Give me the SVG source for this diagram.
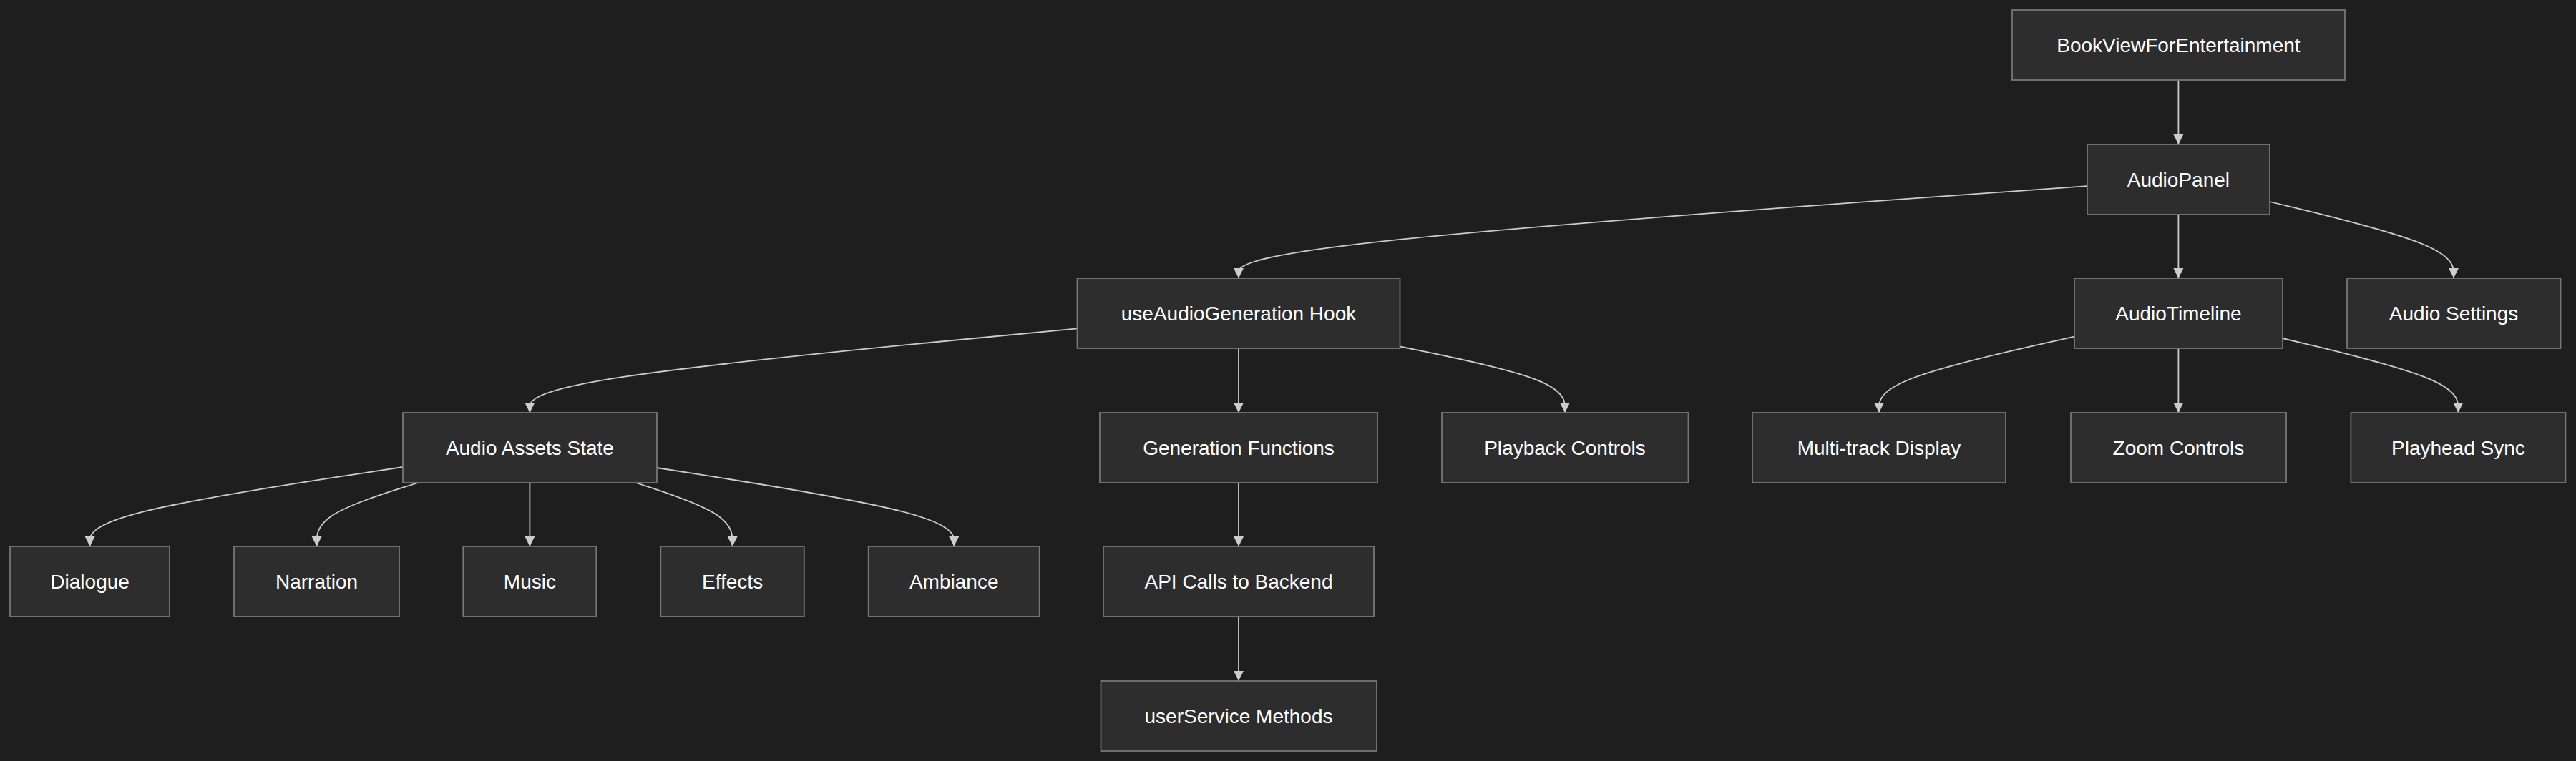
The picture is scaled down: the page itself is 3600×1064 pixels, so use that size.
<svg xmlns="http://www.w3.org/2000/svg" width="3600" height="1064" viewBox="0 0 3600 1064">
<defs>
<style>
.node rect{fill:#2d2d2d;stroke:#777777;stroke-width:1.8}
.node text{font-family:"Liberation Sans",Arial,sans-serif;font-size:28px;fill:#ffffff;text-anchor:middle}
.edge{fill:none;stroke:#cccccc;stroke-width:1.8;marker-end:url(#arr)}
</style>
<marker id="arr" viewBox="0 0 10 10" refX="10" refY="5" markerUnits="userSpaceOnUse" markerWidth="14.4" markerHeight="14.4" orient="auto">
<path d="M0,0 L10,5 L0,10 z" fill="#cccccc"/>
</marker>
</defs>
<rect x="0" y="0" width="3600" height="1064" fill="#1e1e1e"/>
<g id="connectors">
<path class="edge" d="M3044.4,112 L3044.4,202"/>
<path class="edge" d="M2916.9,260.1 L2719.25,274.17 C2521.6,288.23 2126.3,316.37 1928.65,337.85 C1731,359.33 1731,374.17 1731,381.58 L1731,389"/>
<path class="edge" d="M3044.4,300 L3044.4,389"/>
<path class="edge" d="M3171.9,282 L3214.75,292.42 C3257.6,302.83 3343.3,323.67 3386.15,341.5 C3429,359.33 3429,374.17 3429,381.58 L3429,389"/>
<path class="edge" d="M1505.5,459.4 L1377.98,471.5 C1250.47,483.6 995.43,507.8 867.92,527.4 C740.4,547 740.4,562 740.4,569.5 L740.4,577"/>
<path class="edge" d="M1731,487 L1731,577"/>
<path class="edge" d="M1956.5,484.5 L1994.92,492.42 C2033.33,500.33 2110.17,516.17 2148.58,531.58 C2187,547 2187,562 2187,569.5 L2187,577"/>
<path class="edge" d="M2898.9,470.7 L2853.42,480.92 C2807.93,491.13 2716.97,511.57 2671.48,529.28 C2626,547 2626,562 2626,569.5 L2626,577"/>
<path class="edge" d="M3044.4,487 L3044.4,577"/>
<path class="edge" d="M3189.9,473 L3230.82,482.83 C3271.73,492.67 3353.57,512.33 3394.48,529.67 C3435.4,547 3435.4,562 3435.4,569.5 L3435.4,577"/>
<path class="edge" d="M562.9,653 L490.02,664.08 C417.13,675.17 271.37,697.33 198.48,715.83 C125.6,734.33 125.6,749.17 125.6,756.58 L125.6,764"/>
<path class="edge" d="M584.3,675 L560.68,682.42 C537.07,689.83 489.83,704.67 466.22,719.5 C442.6,734.33 442.6,749.17 442.6,756.58 L442.6,764"/>
<path class="edge" d="M740.4,675 L740.4,764"/>
<path class="edge" d="M888.8,675 L911.27,682.42 C933.73,689.83 978.67,704.67 1001.13,719.5 C1023.6,734.33 1023.6,749.17 1023.6,756.58 L1023.6,764"/>
<path class="edge" d="M917.9,654 L987.12,664.92 C1056.33,675.83 1194.77,697.67 1263.98,716 C1333.2,734.33 1333.2,749.17 1333.2,756.58 L1333.2,764"/>
<path class="edge" d="M1731,675 L1731,764"/>
<path class="edge" d="M1731,862 L1731,952"/>
</g>
<g id="n-bookview" class="node"><rect x="2812" y="14" width="465" height="98"/><text x="3044.4" y="73">BookViewForEntertainment</text></g>
<g id="n-audiopanel" class="node"><rect x="2917" y="202" width="255" height="98"/><text x="3044.4" y="261">AudioPanel</text></g>
<g id="n-useaudiogen" class="node"><rect x="1505.5" y="389" width="451" height="98"/><text x="1731" y="448">useAudioGeneration Hook</text></g>
<g id="n-audiotimeline" class="node"><rect x="2899" y="389" width="291" height="98"/><text x="3044.4" y="448">AudioTimeline</text></g>
<g id="n-audiosettings" class="node"><rect x="3280" y="389" width="298.5" height="98"/><text x="3429" y="448">Audio Settings</text></g>
<g id="n-audioassets" class="node"><rect x="563" y="577" width="355" height="98"/><text x="740.4" y="636">Audio Assets State</text></g>
<g id="n-genfunctions" class="node"><rect x="1537" y="577" width="388" height="98"/><text x="1731" y="636">Generation Functions</text></g>
<g id="n-playback" class="node"><rect x="2015" y="577" width="344.5" height="98"/><text x="2187" y="636">Playback Controls</text></g>
<g id="n-multitrack" class="node"><rect x="2449" y="577" width="354" height="98"/><text x="2626" y="636">Multi-track Display</text></g>
<g id="n-zoom" class="node"><rect x="2894" y="577" width="301" height="98"/><text x="3044.4" y="636">Zoom Controls</text></g>
<g id="n-playhead" class="node"><rect x="3285.4" y="577" width="300" height="98"/><text x="3435.4" y="636">Playhead Sync</text></g>
<g id="n-dialogue" class="node"><rect x="14" y="764" width="223" height="98"/><text x="125.6" y="823">Dialogue</text></g>
<g id="n-narration" class="node"><rect x="327" y="764" width="231" height="98"/><text x="442.6" y="823">Narration</text></g>
<g id="n-music" class="node"><rect x="647.3" y="764" width="186" height="98"/><text x="740.4" y="823">Music</text></g>
<g id="n-effects" class="node"><rect x="923.3" y="764" width="200.5" height="98"/><text x="1023.6" y="823">Effects</text></g>
<g id="n-ambiance" class="node"><rect x="1213.7" y="764" width="239" height="98"/><text x="1333.2" y="823">Ambiance</text></g>
<g id="n-apicalls" class="node"><rect x="1542" y="764" width="378" height="98"/><text x="1731" y="823">API Calls to Backend</text></g>
<g id="n-userservice" class="node"><rect x="1538.5" y="952" width="385.5" height="98"/><text x="1731" y="1011">userService Methods</text></g>
</svg>
